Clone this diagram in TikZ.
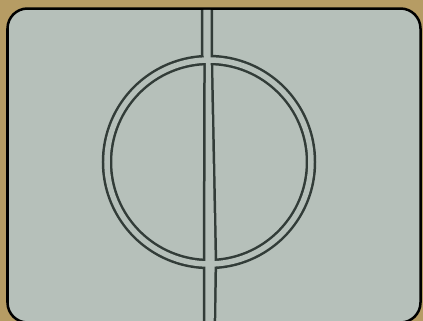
\documentclass[tikz,border=0pt]{standalone}
\begin{document}
\begin{tikzpicture}[x=1bp,y=-1bp]
\definecolor{frame}{RGB}{182,156,100}
\definecolor{paper}{RGB}{182,192,186}
\definecolor{pencil}{RGB}{50,60,56}
\tikzset{
  ink/.style={draw=pencil},
  blank/.style={draw=paper}
}
\useasboundingbox (0,0) rectangle (423,321);
\fill[frame] (0,0) rectangle (423,321);
\draw[fill=paper,line width=2.5bp,rounded corners=20bp] (7.5,8.5) rectangle (420.5,322.5);
\coordinate (c) at (209,162);
% dark layer
\draw[ink,line width=10.5bp] (c) circle[radius=102];
\fill[pencil] (200.8,10) -- (200.8,55) -- (203.3,63) -- (202.8,260) -- (202.8,321)
  -- (216.2,321) -- (217.2,260) -- (213.2,63) -- (213.2,55) -- (213.2,10) -- cycle;
% paper layer
\draw[blank,line width=5.5bp] (c) circle[radius=102];
\fill[paper] (203.3,9.8) -- (203.3,55) -- (205.8,63) -- (205.3,260) -- (205.3,321)
  -- (213.7,321) -- (214.7,260) -- (210.7,63) -- (210.7,55) -- (210.7,9.8) -- cycle;
\end{tikzpicture}
\end{document}
